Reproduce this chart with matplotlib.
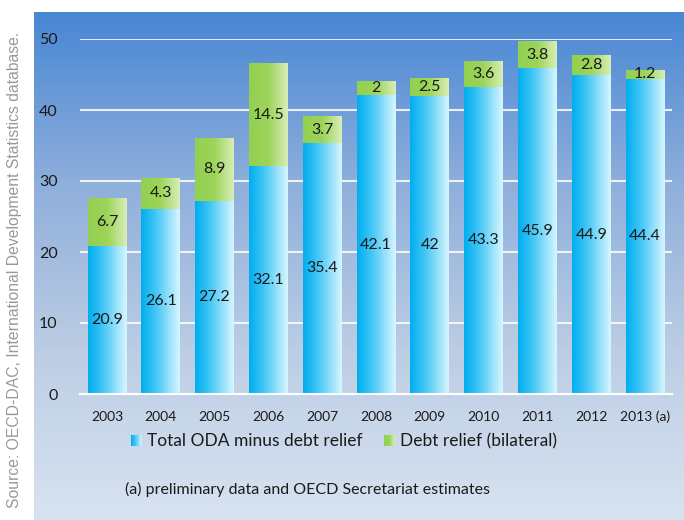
import numpy as np
import matplotlib.pyplot as plt
from matplotlib.colors import LinearSegmentedColormap

years = ['2003', '2004', '2005', '2006', '2007', '2008', '2009', '2010', '2011', '2012', '2013 (a)']
oda_minus_debt = [20.9, 26.1, 27.2, 32.1, 35.4, 42.1, 42.0, 43.3, 45.9, 44.9, 44.4]
debt_relief = [6.7, 4.3, 8.9, 14.5, 3.7, 2.0, 2.5, 3.6, 3.8, 2.8, 1.2]
oda_labels = ['20.9', '26.1', '27.2', '32.1', '35.4', '42.1', '42', '43.3', '45.9', '44.9', '44.4']
debt_labels = ['6.7', '4.3', '8.9', '14.5', '3.7', '2', '2.5', '3.6', '3.8', '2.8', '1.2']

plt.rcParams['font.family'] = ['Lato', 'DejaVu Sans']

blue_cm = LinearSegmentedColormap.from_list('b', [(0.0, '#00aeef'), (0.35, '#3cc4f5'), (1.0, '#d8f6ff')])
green_cm = LinearSegmentedColormap.from_list('g', [(0.0, '#92d050'), (0.5, '#9dd45a'), (1.0, '#d9eeb8')])
bg_cm = LinearSegmentedColormap.from_list('bg', ['#4887d4', '#8eaedb', '#bccde4', '#d8e3f1'])

fig = plt.figure(figsize=(6.84, 5.20), dpi=100)

# gradient background panel
bg = fig.add_axes([34 / 684, 0, 1 - 34 / 684, 1 - 12 / 520])
bg.imshow(np.linspace(0, 1, 256).reshape(-1, 1), cmap=bg_cm, aspect='auto', extent=[0, 1, 0, 1])
bg.set_axis_off()

ax = fig.add_axes([80 / 684, 1 - 394 / 520, 592 / 684, 355 / 520])
ax.patch.set_alpha(0)
x = np.arange(len(years))
grad = np.linspace(0, 1, 256).reshape(1, -1)

b1 = ax.bar(x, oda_minus_debt, width=0.72, color='none', edgecolor='none')
b2 = ax.bar(x, debt_relief, bottom=oda_minus_debt, width=0.72, color='none', edgecolor='none')
for bars, cm in [(b1, blue_cm), (b2, green_cm)]:
    for p in bars:
        x0, y0 = p.get_x(), p.get_y()
        im = ax.imshow(grad, cmap=cm, aspect='auto', zorder=2,
                       extent=[x0, x0 + p.get_width(), y0, y0 + p.get_height()])
        im.set_clip_path(p)

for i in range(len(years)):
    ax.text(x[i], oda_minus_debt[i] / 2, oda_labels[i], ha='center', va='center', fontsize=11.5, color='#1a1a1a', zorder=3)
    ax.text(x[i], oda_minus_debt[i] + debt_relief[i] / 2, debt_labels[i], ha='center', va='center', fontsize=11.5, color='#1a1a1a', zorder=3)

ax.set_xlim(-0.5, len(years) - 0.5)
ax.set_ylim(0, 50)
ax.set_yticks([0, 10, 20, 30, 40, 50])
ax.yaxis.grid(True, color='white', linewidth=1.5, alpha=0.85)
ax.set_axisbelow(True)
ax.set_xticks(x)
ax.set_xticklabels(years)
ax.tick_params(axis='both', length=0, labelsize=11.5, colors='#1a1a1a')
ax.tick_params(axis='x', pad=12, labelsize=10)
ax.tick_params(axis='y', pad=16)
for s in ['top', 'right', 'left']:
    ax.spines[s].set_visible(False)
ax.spines['bottom'].set_color('white')
ax.spines['bottom'].set_linewidth(1.5)

# legend
for lx, cm, label in [(131, blue_cm, 'Total ODA minus debt relief'), (384, green_cm, 'Debt relief (bilateral)')]:
    la = fig.add_axes([lx / 684, 1 - 446 / 520, 11 / 684, 11 / 520])
    la.imshow(grad, cmap=cm, aspect='auto')
    la.set_axis_off()
    fig.text((lx + 16) / 684, 1 - 441 / 520, label, fontsize=12.5, va='center', ha='left', color='#1a1a1a')

fig.text(125 / 684, 1 - 489 / 520, '(a) preliminary data and OECD Secretariat estimates',
         fontsize=11.5, va='center', ha='left', color='#1a1a1a')
fig.text(15 / 684, 1 - 270 / 520, 'Source: OECD-DAC, International Development Statistics database.',
         rotation=90, fontsize=11.3, va='center', ha='center', color='#999999', family='Liberation Sans')

fig.savefig('out.png', dpi=100)
